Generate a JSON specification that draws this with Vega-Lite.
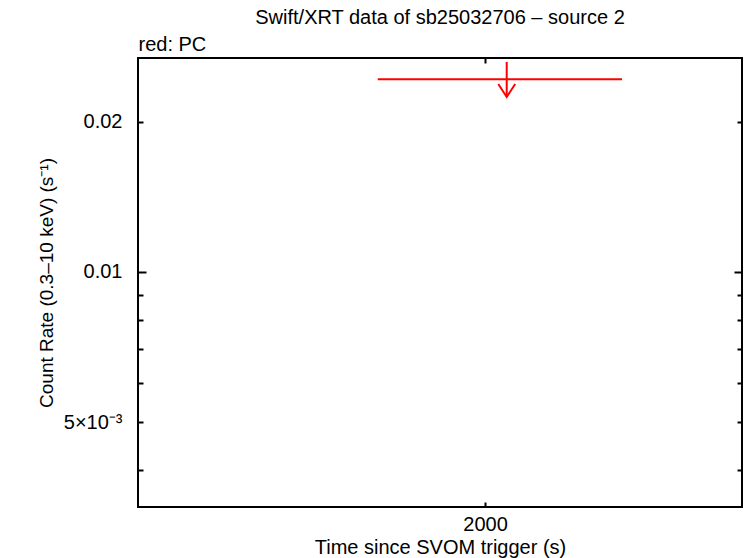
{
  "$schema": "https://vega.github.io/schema/vega-lite/v6.json",
  "autosize": "none",
  "width": 604,
  "height": 449,
  "padding": {"left": 138, "top": 58, "right": 4, "bottom": 51},
  "background": "white",
  "config": {
    "font": "Liberation Sans",
    "view": {"stroke": "black", "strokeWidth": 2},
    "axis": {"grid": false, "domain": false, "tickColor": "black", "tickWidth": 2, "labelColor": "black", "titleColor": "black", "labelFontSize": 20, "titleFontSize": 20, "titleFontWeight": "normal", "labelFont": "Liberation Sans", "titleFont": "Liberation Sans"}
  },
  "title": {"text": "Swift/XRT data of sb25032706 – source 2", "fontSize": 20, "fontWeight": "normal", "color": "black", "anchor": "middle", "offset": 6},
  "data": {"values": [{"t": 2085, "tmin": 1628, "tmax": 2601, "rate": 0.02436, "top": 0.02639, "bottom": 0.02245}]},
  "layer": [
    {
      "mark": {"type": "rule", "color": "#ff0000", "strokeWidth": 2},
      "encoding": {
        "x": {"field": "tmin", "type": "quantitative", "scale": {"type": "log", "domain": [1028, 3274], "nice": false},
          "axis": {"orient": "bottom", "values": [2000], "format": "d", "tickSize": -5, "labelPadding": 12, "title": "Time since SVOM trigger (s)", "titlePadding": 3}},
        "x2": {"field": "tmax"},
        "y": {"field": "rate", "type": "quantitative", "scale": {"type": "log", "domain": [0.003376, 0.02688], "nice": false, "zero": false},
          "axis": {"orient": "left", "values": [0.004, 0.005, 0.006, 0.007, 0.008, 0.009, 0.01, 0.02],
            "tickSize": {"condition": {"test": "datum.value == 0.01", "value": -8}, "value": -5},
            "labelPadding": {"condition": {"test": "datum.value == 0.01", "value": 24}, "value": 21},
            "labelExpr": "datum.value == 0.02 ? '0.02' : datum.value == 0.01 ? '0.01' : datum.value == 0.005 ? '5×10⁻³' : ''",
            "title": "Count Rate (0.3–10 keV) (s⁻¹)", "titleFontSize": 19, "titlePadding": 7}}
      }
    },
    {
      "mark": {"type": "rule", "color": "#ff0000", "strokeWidth": 2},
      "encoding": {
        "x": {"field": "t", "type": "quantitative",
          "axis": {"orient": "top", "values": [2000], "tickSize": -5, "labels": false, "title": "red: PC", "titleAnchor": "start", "titleAlign": "left", "titlePadding": 3}},
        "y": {"field": "top", "type": "quantitative",
          "axis": {"orient": "right", "values": [0.004, 0.005, 0.006, 0.007, 0.008, 0.009, 0.01, 0.02],
            "tickSize": {"condition": {"test": "datum.value == 0.01", "value": -8}, "value": -5},
            "labels": false, "title": null}},
        "y2": {"field": "bottom"}
      }
    },
    {
      "mark": {"type": "point", "shape": "M-0.65,-1L0,0L0.65,-1", "filled": false, "stroke": "#ff0000", "strokeWidth": 2, "size": 676, "opacity": 1},
      "encoding": {
        "x": {"field": "t", "type": "quantitative", "axis": null},
        "y": {"field": "bottom", "type": "quantitative", "axis": null}
      }
    }
  ],
  "resolve": {"axis": {"x": "independent", "y": "independent"}}
}
